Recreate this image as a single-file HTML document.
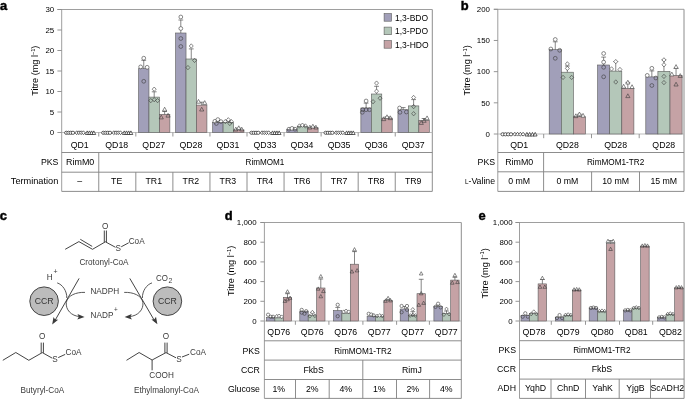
<!DOCTYPE html><html><head><meta charset="utf-8"><style>html,body{margin:0;padding:0;background:#fff;overflow:hidden}svg{display:block;will-change:transform}text{font-family:"Liberation Sans",sans-serif}</style></head><body>
<svg width="685" height="399" viewBox="0 0 685 399">
<rect width="685" height="399" fill="#fff"/>
<text x="-0.10" y="9.70" text-anchor="start" font-size="12.9" font-weight="bold" fill="#000" stroke="#000" stroke-width="0.45">a</text>
<line x1="61.70" y1="9.50" x2="61.70" y2="191.40" stroke="#939393" stroke-width="0.9"/>
<line x1="432.30" y1="9.50" x2="432.30" y2="191.40" stroke="#808080" stroke-width="0.9"/>
<line x1="57.40" y1="9.50" x2="432.30" y2="9.50" stroke="#939393" stroke-width="0.9"/>
<line x1="61.70" y1="132.50" x2="432.30" y2="132.50" stroke="#b5b5b5" stroke-width="0.9"/>
<line x1="57.40" y1="132.50" x2="61.70" y2="132.50" stroke="#8a8a8a" stroke-width="0.9"/>
<text x="54.20" y="135.20" text-anchor="end" font-size="7.9" >0</text>
<line x1="57.40" y1="112.00" x2="61.70" y2="112.00" stroke="#8a8a8a" stroke-width="0.9"/>
<text x="54.20" y="114.70" text-anchor="end" font-size="7.9" >5</text>
<line x1="57.40" y1="91.50" x2="61.70" y2="91.50" stroke="#8a8a8a" stroke-width="0.9"/>
<text x="54.20" y="94.20" text-anchor="end" font-size="7.9" >10</text>
<line x1="57.40" y1="71.00" x2="61.70" y2="71.00" stroke="#8a8a8a" stroke-width="0.9"/>
<text x="54.20" y="73.70" text-anchor="end" font-size="7.9" >15</text>
<line x1="57.40" y1="50.50" x2="61.70" y2="50.50" stroke="#8a8a8a" stroke-width="0.9"/>
<text x="54.20" y="53.20" text-anchor="end" font-size="7.9" >20</text>
<line x1="57.40" y1="30.00" x2="61.70" y2="30.00" stroke="#8a8a8a" stroke-width="0.9"/>
<text x="54.20" y="32.70" text-anchor="end" font-size="7.9" >25</text>
<line x1="57.40" y1="9.50" x2="61.70" y2="9.50" stroke="#8a8a8a" stroke-width="0.9"/>
<text x="54.20" y="12.20" text-anchor="end" font-size="7.9" >30</text>
<text transform="translate(38.40,70.70) rotate(-90)" text-anchor="middle" font-size="9.15">Titre (mg l<tspan font-size="5.6" dy="-3.2">−1</tspan><tspan dy="3.2">)</tspan></text>
<line x1="98.76" y1="132.50" x2="98.76" y2="136.50" stroke="#8a8a8a" stroke-width="0.9"/>
<line x1="135.82" y1="132.50" x2="135.82" y2="136.50" stroke="#8a8a8a" stroke-width="0.9"/>
<line x1="172.88" y1="132.50" x2="172.88" y2="136.50" stroke="#8a8a8a" stroke-width="0.9"/>
<line x1="209.94" y1="132.50" x2="209.94" y2="136.50" stroke="#8a8a8a" stroke-width="0.9"/>
<line x1="247.00" y1="132.50" x2="247.00" y2="136.50" stroke="#8a8a8a" stroke-width="0.9"/>
<line x1="284.06" y1="132.50" x2="284.06" y2="136.50" stroke="#8a8a8a" stroke-width="0.9"/>
<line x1="321.12" y1="132.50" x2="321.12" y2="136.50" stroke="#8a8a8a" stroke-width="0.9"/>
<line x1="358.18" y1="132.50" x2="358.18" y2="136.50" stroke="#8a8a8a" stroke-width="0.9"/>
<line x1="395.24" y1="132.50" x2="395.24" y2="136.50" stroke="#8a8a8a" stroke-width="0.9"/>
<line x1="61.70" y1="152.50" x2="432.30" y2="152.50" stroke="#808080" stroke-width="0.9"/>
<line x1="61.70" y1="172.20" x2="432.30" y2="172.20" stroke="#808080" stroke-width="0.9"/>
<line x1="61.70" y1="191.40" x2="432.30" y2="191.40" stroke="#808080" stroke-width="0.9"/>
<line x1="98.76" y1="152.50" x2="98.76" y2="172.20" stroke="#808080" stroke-width="0.9"/>
<line x1="98.76" y1="172.20" x2="98.76" y2="191.40" stroke="#808080" stroke-width="0.9"/>
<line x1="135.82" y1="172.20" x2="135.82" y2="191.40" stroke="#808080" stroke-width="0.9"/>
<line x1="172.88" y1="172.20" x2="172.88" y2="191.40" stroke="#808080" stroke-width="0.9"/>
<line x1="209.94" y1="172.20" x2="209.94" y2="191.40" stroke="#808080" stroke-width="0.9"/>
<line x1="247.00" y1="172.20" x2="247.00" y2="191.40" stroke="#808080" stroke-width="0.9"/>
<line x1="284.06" y1="172.20" x2="284.06" y2="191.40" stroke="#808080" stroke-width="0.9"/>
<line x1="321.12" y1="172.20" x2="321.12" y2="191.40" stroke="#808080" stroke-width="0.9"/>
<line x1="358.18" y1="172.20" x2="358.18" y2="191.40" stroke="#808080" stroke-width="0.9"/>
<line x1="395.24" y1="172.20" x2="395.24" y2="191.40" stroke="#808080" stroke-width="0.9"/>
<text x="79.65" y="148.20" text-anchor="middle" font-size="8.75" >QD1</text>
<text x="79.65" y="184.40" text-anchor="middle" font-size="8.75" >–</text>
<text x="116.71" y="148.20" text-anchor="middle" font-size="8.75" >QD18</text>
<text x="116.71" y="184.40" text-anchor="middle" font-size="8.75" >TE</text>
<text x="153.77" y="148.20" text-anchor="middle" font-size="8.75" >QD27</text>
<text x="153.77" y="184.40" text-anchor="middle" font-size="8.75" >TR1</text>
<text x="190.83" y="148.20" text-anchor="middle" font-size="8.75" >QD28</text>
<text x="190.83" y="184.40" text-anchor="middle" font-size="8.75" >TR2</text>
<text x="227.89" y="148.20" text-anchor="middle" font-size="8.75" >QD31</text>
<text x="227.89" y="184.40" text-anchor="middle" font-size="8.75" >TR3</text>
<text x="264.95" y="148.20" text-anchor="middle" font-size="8.75" >QD33</text>
<text x="264.95" y="184.40" text-anchor="middle" font-size="8.75" >TR4</text>
<text x="302.01" y="148.20" text-anchor="middle" font-size="8.75" >QD34</text>
<text x="302.01" y="184.40" text-anchor="middle" font-size="8.75" >TR6</text>
<text x="339.07" y="148.20" text-anchor="middle" font-size="8.75" >QD35</text>
<text x="339.07" y="184.40" text-anchor="middle" font-size="8.75" >TR7</text>
<text x="376.13" y="148.20" text-anchor="middle" font-size="8.75" >QD36</text>
<text x="376.13" y="184.40" text-anchor="middle" font-size="8.75" >TR8</text>
<text x="413.19" y="148.20" text-anchor="middle" font-size="8.75" >QD37</text>
<text x="413.19" y="184.40" text-anchor="middle" font-size="8.75" >TR9</text>
<text x="80.23" y="165.00" text-anchor="middle" font-size="8.75" textLength="28.2" lengthAdjust="spacingAndGlyphs" >RimM0</text>
<text x="265.00" y="165.00" text-anchor="middle" font-size="8.75" textLength="38.8" lengthAdjust="spacingAndGlyphs" >RimMOM1</text>
<text x="58.40" y="165.00" text-anchor="end" font-size="8.75" >PKS</text>
<text x="58.30" y="184.40" text-anchor="end" font-size="8.75" textLength="47.5" lengthAdjust="spacingAndGlyphs" >Termination</text>
<ellipse cx="66.30" cy="132.80" rx="1.75" ry="1.6" fill="#fff" stroke="#2e2e2e" stroke-width="0.75"/>
<ellipse cx="68.52" cy="132.80" rx="1.75" ry="1.6" fill="#fff" stroke="#2e2e2e" stroke-width="0.75"/>
<ellipse cx="70.73" cy="132.80" rx="1.75" ry="1.6" fill="#fff" stroke="#2e2e2e" stroke-width="0.75"/>
<ellipse cx="72.95" cy="132.80" rx="1.75" ry="1.6" fill="#fff" stroke="#2e2e2e" stroke-width="0.75"/>
<path d="M76.75 130.80L78.55 132.80L76.75 134.60L74.95 132.80Z" fill="#fff" stroke="#2e2e2e" stroke-width="0.75"/>
<path d="M78.97 130.80L80.77 132.80L78.97 134.60L77.17 132.80Z" fill="#fff" stroke="#2e2e2e" stroke-width="0.75"/>
<path d="M81.18 130.80L82.98 132.80L81.18 134.60L79.38 132.80Z" fill="#fff" stroke="#2e2e2e" stroke-width="0.75"/>
<path d="M83.40 130.80L85.20 132.80L83.40 134.60L81.60 132.80Z" fill="#fff" stroke="#2e2e2e" stroke-width="0.75"/>
<path d="M87.20 130.90L89.10 134.50L85.30 134.50Z" fill="#fff" stroke="#2e2e2e" stroke-width="0.75"/>
<path d="M89.42 130.90L91.32 134.50L87.52 134.50Z" fill="#fff" stroke="#2e2e2e" stroke-width="0.75"/>
<path d="M91.63 130.90L93.53 134.50L89.73 134.50Z" fill="#fff" stroke="#2e2e2e" stroke-width="0.75"/>
<path d="M93.85 130.90L95.75 134.50L91.95 134.50Z" fill="#fff" stroke="#2e2e2e" stroke-width="0.75"/>
<ellipse cx="103.36" cy="132.80" rx="1.75" ry="1.6" fill="#fff" stroke="#2e2e2e" stroke-width="0.75"/>
<ellipse cx="105.58" cy="132.80" rx="1.75" ry="1.6" fill="#fff" stroke="#2e2e2e" stroke-width="0.75"/>
<ellipse cx="107.79" cy="132.80" rx="1.75" ry="1.6" fill="#fff" stroke="#2e2e2e" stroke-width="0.75"/>
<ellipse cx="110.01" cy="132.80" rx="1.75" ry="1.6" fill="#fff" stroke="#2e2e2e" stroke-width="0.75"/>
<path d="M113.81 130.80L115.61 132.80L113.81 134.60L112.01 132.80Z" fill="#fff" stroke="#2e2e2e" stroke-width="0.75"/>
<path d="M116.03 130.80L117.83 132.80L116.03 134.60L114.23 132.80Z" fill="#fff" stroke="#2e2e2e" stroke-width="0.75"/>
<path d="M118.24 130.80L120.04 132.80L118.24 134.60L116.44 132.80Z" fill="#fff" stroke="#2e2e2e" stroke-width="0.75"/>
<path d="M120.46 130.80L122.26 132.80L120.46 134.60L118.66 132.80Z" fill="#fff" stroke="#2e2e2e" stroke-width="0.75"/>
<path d="M124.26 130.90L126.16 134.50L122.36 134.50Z" fill="#fff" stroke="#2e2e2e" stroke-width="0.75"/>
<path d="M126.48 130.90L128.38 134.50L124.58 134.50Z" fill="#fff" stroke="#2e2e2e" stroke-width="0.75"/>
<path d="M128.69 130.90L130.59 134.50L126.79 134.50Z" fill="#fff" stroke="#2e2e2e" stroke-width="0.75"/>
<path d="M130.91 130.90L132.81 134.50L129.01 134.50Z" fill="#fff" stroke="#2e2e2e" stroke-width="0.75"/>
<rect x="138.52" y="68.70" width="10.45" height="63.80" fill="#a19fb9" stroke="#5a5a5a" stroke-width="0.6"/>
<line x1="143.75" y1="68.70" x2="143.75" y2="60.30" stroke="#444" stroke-width="0.65"/>
<line x1="141.34" y1="60.30" x2="146.15" y2="60.30" stroke="#444" stroke-width="0.65"/>
<circle cx="143.75" cy="58.20" r="1.9" fill="#fff" stroke="#3a3a3a" stroke-width="0.6"/>
<circle cx="140.65" cy="66.90" r="1.9" fill="#fff" stroke="#3a3a3a" stroke-width="0.6"/>
<circle cx="147.15" cy="67.30" r="1.9" fill="#fff" stroke="#3a3a3a" stroke-width="0.6"/>
<circle cx="143.75" cy="81.30" r="1.9" fill="none" stroke="#3a3a3a" stroke-width="0.6"/>
<rect x="148.97" y="97.10" width="10.45" height="35.40" fill="#b4c7b9" stroke="#5a5a5a" stroke-width="0.6"/>
<line x1="154.19" y1="97.10" x2="154.19" y2="91.80" stroke="#444" stroke-width="0.65"/>
<line x1="151.79" y1="91.80" x2="156.59" y2="91.80" stroke="#444" stroke-width="0.65"/>
<path d="M154.19 87.02L156.19 89.20L154.19 91.39L152.20 89.20Z" fill="#fff" stroke="#3a3a3a" stroke-width="0.6"/>
<path d="M150.79 98.41L152.79 100.60L150.79 102.78L148.80 100.60Z" fill="none" stroke="#3a3a3a" stroke-width="0.6"/>
<path d="M154.19 97.52L156.19 99.70L154.19 101.89L152.20 99.70Z" fill="none" stroke="#3a3a3a" stroke-width="0.6"/>
<path d="M157.59 98.41L159.59 100.60L157.59 102.78L155.60 100.60Z" fill="none" stroke="#3a3a3a" stroke-width="0.6"/>
<rect x="159.42" y="114.30" width="10.45" height="18.20" fill="#c5a2a5" stroke="#5a5a5a" stroke-width="0.6"/>
<line x1="164.65" y1="114.30" x2="164.65" y2="111.50" stroke="#444" stroke-width="0.65"/>
<line x1="162.25" y1="111.50" x2="167.05" y2="111.50" stroke="#444" stroke-width="0.65"/>
<path d="M164.65 107.22L166.74 111.02L162.56 111.02Z" fill="#fff" stroke="#3a3a3a" stroke-width="0.6"/>
<path d="M161.25 115.11L163.34 118.91L159.16 118.91Z" fill="none" stroke="#3a3a3a" stroke-width="0.6"/>
<path d="M168.05 113.31L170.14 117.11L165.96 117.11Z" fill="none" stroke="#3a3a3a" stroke-width="0.6"/>
<rect x="175.58" y="33.00" width="10.45" height="99.50" fill="#a19fb9" stroke="#5a5a5a" stroke-width="0.6"/>
<line x1="180.81" y1="33.00" x2="180.81" y2="20.00" stroke="#444" stroke-width="0.65"/>
<line x1="178.41" y1="20.00" x2="183.21" y2="20.00" stroke="#444" stroke-width="0.65"/>
<circle cx="180.81" cy="17.00" r="1.9" fill="#fff" stroke="#3a3a3a" stroke-width="0.6"/>
<circle cx="180.81" cy="28.50" r="1.9" fill="#fff" stroke="#3a3a3a" stroke-width="0.6"/>
<circle cx="180.81" cy="38.50" r="1.9" fill="none" stroke="#3a3a3a" stroke-width="0.6"/>
<circle cx="180.81" cy="46.50" r="1.9" fill="none" stroke="#3a3a3a" stroke-width="0.6"/>
<rect x="186.03" y="59.00" width="10.45" height="73.50" fill="#b4c7b9" stroke="#5a5a5a" stroke-width="0.6"/>
<line x1="191.25" y1="59.00" x2="191.25" y2="48.90" stroke="#444" stroke-width="0.65"/>
<line x1="188.85" y1="48.90" x2="193.66" y2="48.90" stroke="#444" stroke-width="0.65"/>
<path d="M191.25 43.81L193.25 46.00L191.25 48.19L189.26 46.00Z" fill="#fff" stroke="#3a3a3a" stroke-width="0.6"/>
<path d="M194.56 58.21L196.55 60.40L194.56 62.59L192.56 60.40Z" fill="none" stroke="#3a3a3a" stroke-width="0.6"/>
<path d="M187.95 65.41L189.95 67.60L187.95 69.78L185.96 67.60Z" fill="none" stroke="#3a3a3a" stroke-width="0.6"/>
<rect x="196.48" y="105.10" width="10.45" height="27.40" fill="#c5a2a5" stroke="#5a5a5a" stroke-width="0.6"/>
<line x1="201.71" y1="105.10" x2="201.71" y2="102.20" stroke="#444" stroke-width="0.65"/>
<line x1="199.31" y1="102.20" x2="204.11" y2="102.20" stroke="#444" stroke-width="0.65"/>
<path d="M198.51 99.41L200.60 103.21L196.42 103.21Z" fill="#fff" stroke="#3a3a3a" stroke-width="0.6"/>
<path d="M204.71 100.61L206.80 104.41L202.62 104.41Z" fill="#fff" stroke="#3a3a3a" stroke-width="0.6"/>
<path d="M201.71 107.22L203.80 111.02L199.62 111.02Z" fill="none" stroke="#3a3a3a" stroke-width="0.6"/>
<rect x="212.64" y="122.30" width="10.45" height="10.20" fill="#a19fb9" stroke="#5a5a5a" stroke-width="0.6"/>
<line x1="217.87" y1="122.30" x2="217.87" y2="120.50" stroke="#444" stroke-width="0.65"/>
<line x1="215.47" y1="120.50" x2="220.27" y2="120.50" stroke="#444" stroke-width="0.65"/>
<circle cx="214.87" cy="121.30" r="1.9" fill="#fff" stroke="#3a3a3a" stroke-width="0.6"/>
<circle cx="217.87" cy="119.60" r="1.9" fill="#fff" stroke="#3a3a3a" stroke-width="0.6"/>
<circle cx="220.87" cy="121.60" r="1.9" fill="none" stroke="#3a3a3a" stroke-width="0.6"/>
<circle cx="216.37" cy="123.50" r="1.9" fill="none" stroke="#3a3a3a" stroke-width="0.6"/>
<rect x="223.09" y="122.30" width="10.45" height="10.20" fill="#b4c7b9" stroke="#5a5a5a" stroke-width="0.6"/>
<line x1="228.31" y1="122.30" x2="228.31" y2="120.80" stroke="#444" stroke-width="0.65"/>
<line x1="225.91" y1="120.80" x2="230.72" y2="120.80" stroke="#444" stroke-width="0.65"/>
<path d="M225.31 119.41L227.31 121.60L225.31 123.78L223.32 121.60Z" fill="none" stroke="#3a3a3a" stroke-width="0.6"/>
<path d="M228.31 117.61L230.31 119.80L228.31 121.98L226.32 119.80Z" fill="#fff" stroke="#3a3a3a" stroke-width="0.6"/>
<path d="M231.31 119.41L233.31 121.60L231.31 123.78L229.32 121.60Z" fill="none" stroke="#3a3a3a" stroke-width="0.6"/>
<path d="M229.81 121.31L231.81 123.50L229.81 125.69L227.82 123.50Z" fill="none" stroke="#3a3a3a" stroke-width="0.6"/>
<rect x="233.54" y="129.90" width="10.45" height="2.60" fill="#c5a2a5" stroke="#5a5a5a" stroke-width="0.6"/>
<line x1="238.77" y1="129.90" x2="238.77" y2="128.20" stroke="#444" stroke-width="0.65"/>
<line x1="236.37" y1="128.20" x2="241.17" y2="128.20" stroke="#444" stroke-width="0.65"/>
<path d="M235.77 127.22L237.86 131.02L233.68 131.02Z" fill="none" stroke="#3a3a3a" stroke-width="0.6"/>
<path d="M238.77 125.81L240.86 129.62L236.68 129.62Z" fill="#fff" stroke="#3a3a3a" stroke-width="0.6"/>
<path d="M241.77 127.22L243.86 131.02L239.68 131.02Z" fill="none" stroke="#3a3a3a" stroke-width="0.6"/>
<ellipse cx="251.60" cy="132.80" rx="1.75" ry="1.6" fill="#fff" stroke="#2e2e2e" stroke-width="0.75"/>
<ellipse cx="253.82" cy="132.80" rx="1.75" ry="1.6" fill="#fff" stroke="#2e2e2e" stroke-width="0.75"/>
<ellipse cx="256.03" cy="132.80" rx="1.75" ry="1.6" fill="#fff" stroke="#2e2e2e" stroke-width="0.75"/>
<ellipse cx="258.25" cy="132.80" rx="1.75" ry="1.6" fill="#fff" stroke="#2e2e2e" stroke-width="0.75"/>
<path d="M262.05 130.80L263.85 132.80L262.05 134.60L260.25 132.80Z" fill="#fff" stroke="#2e2e2e" stroke-width="0.75"/>
<path d="M264.27 130.80L266.07 132.80L264.27 134.60L262.47 132.80Z" fill="#fff" stroke="#2e2e2e" stroke-width="0.75"/>
<path d="M266.48 130.80L268.28 132.80L266.48 134.60L264.68 132.80Z" fill="#fff" stroke="#2e2e2e" stroke-width="0.75"/>
<path d="M268.70 130.80L270.50 132.80L268.70 134.60L266.90 132.80Z" fill="#fff" stroke="#2e2e2e" stroke-width="0.75"/>
<path d="M272.50 130.90L274.40 134.50L270.60 134.50Z" fill="#fff" stroke="#2e2e2e" stroke-width="0.75"/>
<path d="M274.72 130.90L276.62 134.50L272.82 134.50Z" fill="#fff" stroke="#2e2e2e" stroke-width="0.75"/>
<path d="M276.93 130.90L278.83 134.50L275.03 134.50Z" fill="#fff" stroke="#2e2e2e" stroke-width="0.75"/>
<path d="M279.15 130.90L281.05 134.50L277.25 134.50Z" fill="#fff" stroke="#2e2e2e" stroke-width="0.75"/>
<rect x="286.76" y="129.40" width="10.45" height="3.10" fill="#a19fb9" stroke="#5a5a5a" stroke-width="0.6"/>
<line x1="291.99" y1="129.40" x2="291.99" y2="128.40" stroke="#444" stroke-width="0.65"/>
<line x1="289.59" y1="128.40" x2="294.38" y2="128.40" stroke="#444" stroke-width="0.65"/>
<circle cx="288.99" cy="129.20" r="1.9" fill="none" stroke="#3a3a3a" stroke-width="0.6"/>
<circle cx="291.99" cy="128.40" r="1.9" fill="#fff" stroke="#3a3a3a" stroke-width="0.6"/>
<circle cx="294.99" cy="129.20" r="1.9" fill="none" stroke="#3a3a3a" stroke-width="0.6"/>
<rect x="297.21" y="126.30" width="10.45" height="6.20" fill="#b4c7b9" stroke="#5a5a5a" stroke-width="0.6"/>
<line x1="302.44" y1="126.30" x2="302.44" y2="125.30" stroke="#444" stroke-width="0.65"/>
<line x1="300.04" y1="125.30" x2="304.83" y2="125.30" stroke="#444" stroke-width="0.65"/>
<path d="M299.44 123.81L301.43 126.00L299.44 128.19L297.44 126.00Z" fill="none" stroke="#3a3a3a" stroke-width="0.6"/>
<path d="M302.44 123.02L304.43 125.20L302.44 127.39L300.44 125.20Z" fill="#fff" stroke="#3a3a3a" stroke-width="0.6"/>
<path d="M305.44 123.81L307.43 126.00L305.44 128.19L303.44 126.00Z" fill="none" stroke="#3a3a3a" stroke-width="0.6"/>
<rect x="307.66" y="127.70" width="10.45" height="4.80" fill="#c5a2a5" stroke="#5a5a5a" stroke-width="0.6"/>
<line x1="312.88" y1="127.70" x2="312.88" y2="126.60" stroke="#444" stroke-width="0.65"/>
<line x1="310.49" y1="126.60" x2="315.28" y2="126.60" stroke="#444" stroke-width="0.65"/>
<path d="M309.88 125.22L311.97 129.02L307.80 129.02Z" fill="none" stroke="#3a3a3a" stroke-width="0.6"/>
<path d="M312.88 124.22L314.97 128.02L310.80 128.02Z" fill="#fff" stroke="#3a3a3a" stroke-width="0.6"/>
<path d="M315.88 125.22L317.97 129.02L313.80 129.02Z" fill="none" stroke="#3a3a3a" stroke-width="0.6"/>
<ellipse cx="325.72" cy="132.80" rx="1.75" ry="1.6" fill="#fff" stroke="#2e2e2e" stroke-width="0.75"/>
<ellipse cx="327.94" cy="132.80" rx="1.75" ry="1.6" fill="#fff" stroke="#2e2e2e" stroke-width="0.75"/>
<ellipse cx="330.15" cy="132.80" rx="1.75" ry="1.6" fill="#fff" stroke="#2e2e2e" stroke-width="0.75"/>
<ellipse cx="332.37" cy="132.80" rx="1.75" ry="1.6" fill="#fff" stroke="#2e2e2e" stroke-width="0.75"/>
<path d="M336.17 130.80L337.97 132.80L336.17 134.60L334.37 132.80Z" fill="#fff" stroke="#2e2e2e" stroke-width="0.75"/>
<path d="M338.39 130.80L340.19 132.80L338.39 134.60L336.59 132.80Z" fill="#fff" stroke="#2e2e2e" stroke-width="0.75"/>
<path d="M340.60 130.80L342.40 132.80L340.60 134.60L338.80 132.80Z" fill="#fff" stroke="#2e2e2e" stroke-width="0.75"/>
<path d="M342.82 130.80L344.62 132.80L342.82 134.60L341.02 132.80Z" fill="#fff" stroke="#2e2e2e" stroke-width="0.75"/>
<path d="M346.62 130.90L348.52 134.50L344.72 134.50Z" fill="#fff" stroke="#2e2e2e" stroke-width="0.75"/>
<path d="M348.84 130.90L350.74 134.50L346.94 134.50Z" fill="#fff" stroke="#2e2e2e" stroke-width="0.75"/>
<path d="M351.05 130.90L352.95 134.50L349.15 134.50Z" fill="#fff" stroke="#2e2e2e" stroke-width="0.75"/>
<path d="M353.27 130.90L355.17 134.50L351.37 134.50Z" fill="#fff" stroke="#2e2e2e" stroke-width="0.75"/>
<rect x="360.88" y="108.00" width="10.45" height="24.50" fill="#a19fb9" stroke="#5a5a5a" stroke-width="0.6"/>
<line x1="366.11" y1="108.00" x2="366.11" y2="103.10" stroke="#444" stroke-width="0.65"/>
<line x1="363.71" y1="103.10" x2="368.50" y2="103.10" stroke="#444" stroke-width="0.65"/>
<circle cx="366.11" cy="101.00" r="1.9" fill="#fff" stroke="#3a3a3a" stroke-width="0.6"/>
<circle cx="362.71" cy="109.70" r="1.9" fill="none" stroke="#3a3a3a" stroke-width="0.6"/>
<circle cx="366.11" cy="109.70" r="1.9" fill="none" stroke="#3a3a3a" stroke-width="0.6"/>
<circle cx="369.50" cy="109.70" r="1.9" fill="none" stroke="#3a3a3a" stroke-width="0.6"/>
<circle cx="362.31" cy="112.30" r="1.9" fill="none" stroke="#3a3a3a" stroke-width="0.6"/>
<rect x="371.33" y="94.00" width="10.45" height="38.50" fill="#b4c7b9" stroke="#5a5a5a" stroke-width="0.6"/>
<line x1="376.56" y1="94.00" x2="376.56" y2="86.30" stroke="#444" stroke-width="0.65"/>
<line x1="374.16" y1="86.30" x2="378.95" y2="86.30" stroke="#444" stroke-width="0.65"/>
<path d="M376.56 80.91L378.55 83.10L376.56 85.28L374.56 83.10Z" fill="#fff" stroke="#3a3a3a" stroke-width="0.6"/>
<path d="M376.56 89.02L378.55 91.20L376.56 93.39L374.56 91.20Z" fill="#fff" stroke="#3a3a3a" stroke-width="0.6"/>
<path d="M373.06 99.52L375.05 101.70L373.06 103.89L371.06 101.70Z" fill="none" stroke="#3a3a3a" stroke-width="0.6"/>
<path d="M380.06 96.02L382.05 98.20L380.06 100.39L378.06 98.20Z" fill="none" stroke="#3a3a3a" stroke-width="0.6"/>
<rect x="381.78" y="118.10" width="10.45" height="14.40" fill="#c5a2a5" stroke="#5a5a5a" stroke-width="0.6"/>
<line x1="387.00" y1="118.10" x2="387.00" y2="116.80" stroke="#444" stroke-width="0.65"/>
<line x1="384.61" y1="116.80" x2="389.40" y2="116.80" stroke="#444" stroke-width="0.65"/>
<path d="M383.70 116.81L385.79 120.61L381.62 120.61Z" fill="none" stroke="#3a3a3a" stroke-width="0.6"/>
<path d="M387.00 114.81L389.09 118.61L384.92 118.61Z" fill="#fff" stroke="#3a3a3a" stroke-width="0.6"/>
<path d="M390.31 115.81L392.39 119.61L388.22 119.61Z" fill="none" stroke="#3a3a3a" stroke-width="0.6"/>
<rect x="397.94" y="109.70" width="10.45" height="22.80" fill="#a19fb9" stroke="#5a5a5a" stroke-width="0.6"/>
<line x1="403.17" y1="109.70" x2="403.17" y2="107.60" stroke="#444" stroke-width="0.65"/>
<line x1="400.77" y1="107.60" x2="405.57" y2="107.60" stroke="#444" stroke-width="0.65"/>
<circle cx="399.57" cy="108.00" r="1.9" fill="#fff" stroke="#3a3a3a" stroke-width="0.6"/>
<circle cx="399.97" cy="112.30" r="1.9" fill="none" stroke="#3a3a3a" stroke-width="0.6"/>
<circle cx="406.37" cy="112.00" r="1.9" fill="none" stroke="#3a3a3a" stroke-width="0.6"/>
<rect x="408.39" y="105.90" width="10.45" height="26.60" fill="#b4c7b9" stroke="#5a5a5a" stroke-width="0.6"/>
<line x1="413.62" y1="105.90" x2="413.62" y2="99.60" stroke="#444" stroke-width="0.65"/>
<line x1="411.22" y1="99.60" x2="416.02" y2="99.60" stroke="#444" stroke-width="0.65"/>
<path d="M413.62 95.31L415.61 97.50L413.62 99.69L411.62 97.50Z" fill="#fff" stroke="#3a3a3a" stroke-width="0.6"/>
<path d="M413.62 104.41L415.61 106.60L413.62 108.78L411.62 106.60Z" fill="none" stroke="#3a3a3a" stroke-width="0.6"/>
<path d="M413.62 111.52L415.61 113.70L413.62 115.89L411.62 113.70Z" fill="none" stroke="#3a3a3a" stroke-width="0.6"/>
<rect x="418.84" y="120.40" width="10.45" height="12.10" fill="#c5a2a5" stroke="#5a5a5a" stroke-width="0.6"/>
<line x1="424.07" y1="120.40" x2="424.07" y2="118.50" stroke="#444" stroke-width="0.65"/>
<line x1="421.67" y1="118.50" x2="426.47" y2="118.50" stroke="#444" stroke-width="0.65"/>
<path d="M421.27 120.61L423.36 124.41L419.18 124.41Z" fill="none" stroke="#3a3a3a" stroke-width="0.6"/>
<path d="M424.07 118.52L426.16 122.31L421.98 122.31Z" fill="none" stroke="#3a3a3a" stroke-width="0.6"/>
<path d="M427.07 115.91L429.16 119.71L424.98 119.71Z" fill="#fff" stroke="#3a3a3a" stroke-width="0.6"/>
<rect x="384.10" y="13.60" width="7.40" height="7.60" fill="#a19fb9" stroke="#5a5a5a" stroke-width="0.6"/>
<text x="395.00" y="20.60" text-anchor="start" font-size="8.5" >1,3-BDO</text>
<rect x="384.10" y="27.10" width="7.40" height="7.60" fill="#b4c7b9" stroke="#5a5a5a" stroke-width="0.6"/>
<text x="395.00" y="34.10" text-anchor="start" font-size="8.5" >1,3-PDO</text>
<rect x="384.10" y="40.60" width="7.40" height="7.60" fill="#c5a2a5" stroke="#5a5a5a" stroke-width="0.6"/>
<text x="395.00" y="47.60" text-anchor="start" font-size="8.5" >1,3-HDO</text>
<text x="460.80" y="9.50" text-anchor="start" font-size="12.9" font-weight="bold" fill="#000" stroke="#000" stroke-width="0.45">b</text>
<line x1="497.80" y1="9.30" x2="497.80" y2="191.40" stroke="#939393" stroke-width="0.9"/>
<line x1="684.00" y1="9.30" x2="684.00" y2="191.40" stroke="#808080" stroke-width="0.9"/>
<line x1="493.80" y1="9.30" x2="684.00" y2="9.30" stroke="#939393" stroke-width="0.9"/>
<line x1="497.80" y1="134.00" x2="684.00" y2="134.00" stroke="#b5b5b5" stroke-width="0.9"/>
<line x1="493.80" y1="134.00" x2="497.80" y2="134.00" stroke="#8a8a8a" stroke-width="0.9"/>
<text x="490.00" y="136.70" text-anchor="end" font-size="7.9" >0</text>
<line x1="493.80" y1="102.82" x2="497.80" y2="102.82" stroke="#8a8a8a" stroke-width="0.9"/>
<text x="490.00" y="105.52" text-anchor="end" font-size="7.9" >50</text>
<line x1="493.80" y1="71.65" x2="497.80" y2="71.65" stroke="#8a8a8a" stroke-width="0.9"/>
<text x="490.00" y="74.35" text-anchor="end" font-size="7.9" >100</text>
<line x1="493.80" y1="40.47" x2="497.80" y2="40.47" stroke="#8a8a8a" stroke-width="0.9"/>
<text x="490.00" y="43.17" text-anchor="end" font-size="7.9" >150</text>
<line x1="493.80" y1="9.30" x2="497.80" y2="9.30" stroke="#8a8a8a" stroke-width="0.9"/>
<text x="490.00" y="12.00" text-anchor="end" font-size="7.9" >200</text>
<text transform="translate(470.40,70.30) rotate(-90)" text-anchor="middle" font-size="9.15">Titre (mg l<tspan font-size="5.6" dy="-3.2">−1</tspan><tspan dy="3.2">)</tspan></text>
<line x1="543.70" y1="134.00" x2="543.70" y2="138.20" stroke="#8a8a8a" stroke-width="0.9"/>
<line x1="591.50" y1="134.00" x2="591.50" y2="138.20" stroke="#8a8a8a" stroke-width="0.9"/>
<line x1="639.20" y1="134.00" x2="639.20" y2="138.20" stroke="#8a8a8a" stroke-width="0.9"/>
<line x1="497.80" y1="152.50" x2="684.00" y2="152.50" stroke="#808080" stroke-width="0.9"/>
<line x1="497.80" y1="171.80" x2="684.00" y2="171.80" stroke="#808080" stroke-width="0.9"/>
<line x1="497.80" y1="191.40" x2="684.00" y2="191.40" stroke="#808080" stroke-width="0.9"/>
<line x1="543.60" y1="152.50" x2="543.60" y2="171.80" stroke="#808080" stroke-width="0.9"/>
<line x1="543.60" y1="171.80" x2="543.60" y2="191.40" stroke="#808080" stroke-width="0.9"/>
<line x1="591.60" y1="171.80" x2="591.60" y2="191.40" stroke="#808080" stroke-width="0.9"/>
<line x1="639.50" y1="171.80" x2="639.50" y2="191.40" stroke="#808080" stroke-width="0.9"/>
<text x="519.20" y="148.20" text-anchor="middle" font-size="8.75" >QD1</text>
<text x="519.20" y="184.40" text-anchor="middle" font-size="8.75" >0 mM</text>
<text x="567.40" y="148.20" text-anchor="middle" font-size="8.75" >QD28</text>
<text x="567.40" y="184.40" text-anchor="middle" font-size="8.75" >0 mM</text>
<text x="615.60" y="148.20" text-anchor="middle" font-size="8.75" >QD28</text>
<text x="615.60" y="184.40" text-anchor="middle" font-size="8.75" >10 mM</text>
<text x="663.80" y="148.20" text-anchor="middle" font-size="8.75" >QD28</text>
<text x="663.80" y="184.40" text-anchor="middle" font-size="8.75" >15 mM</text>
<text x="519.20" y="165.00" text-anchor="middle" font-size="8.75" textLength="28.0" lengthAdjust="spacingAndGlyphs" >RimM0</text>
<text x="615.60" y="165.00" text-anchor="middle" font-size="8.75" textLength="57.4" lengthAdjust="spacingAndGlyphs" >RimMOM1-TR2</text>
<text x="495.10" y="165.00" text-anchor="end" font-size="8.75" >PKS</text>
<text x="495.10" y="184.40" text-anchor="end" font-size="8.75" ><tspan font-size="6.4">L</tspan>-Valine</text>
<ellipse cx="502.70" cy="134.30" rx="1.75" ry="1.6" fill="#fff" stroke="#2e2e2e" stroke-width="0.75"/>
<ellipse cx="505.47" cy="134.30" rx="1.75" ry="1.6" fill="#fff" stroke="#2e2e2e" stroke-width="0.75"/>
<ellipse cx="508.23" cy="134.30" rx="1.75" ry="1.6" fill="#fff" stroke="#2e2e2e" stroke-width="0.75"/>
<ellipse cx="511.00" cy="134.30" rx="1.75" ry="1.6" fill="#fff" stroke="#2e2e2e" stroke-width="0.75"/>
<path d="M514.80 132.30L516.60 134.30L514.80 136.10L513.00 134.30Z" fill="#fff" stroke="#2e2e2e" stroke-width="0.75"/>
<path d="M517.57 132.30L519.37 134.30L517.57 136.10L515.77 134.30Z" fill="#fff" stroke="#2e2e2e" stroke-width="0.75"/>
<path d="M520.33 132.30L522.13 134.30L520.33 136.10L518.53 134.30Z" fill="#fff" stroke="#2e2e2e" stroke-width="0.75"/>
<path d="M523.10 132.30L524.90 134.30L523.10 136.10L521.30 134.30Z" fill="#fff" stroke="#2e2e2e" stroke-width="0.75"/>
<path d="M526.90 132.40L528.80 136.00L525.00 136.00Z" fill="#fff" stroke="#2e2e2e" stroke-width="0.75"/>
<path d="M529.67 132.40L531.57 136.00L527.77 136.00Z" fill="#fff" stroke="#2e2e2e" stroke-width="0.75"/>
<path d="M532.43 132.40L534.33 136.00L530.53 136.00Z" fill="#fff" stroke="#2e2e2e" stroke-width="0.75"/>
<path d="M535.20 132.40L537.10 136.00L533.30 136.00Z" fill="#fff" stroke="#2e2e2e" stroke-width="0.75"/>
<rect x="549.20" y="49.70" width="12.10" height="84.30" fill="#a19fb9" stroke="#5a5a5a" stroke-width="0.6"/>
<line x1="555.25" y1="49.70" x2="555.25" y2="41.80" stroke="#444" stroke-width="0.65"/>
<line x1="552.85" y1="41.80" x2="557.65" y2="41.80" stroke="#444" stroke-width="0.65"/>
<circle cx="555.25" cy="39.50" r="1.9" fill="#fff" stroke="#3a3a3a" stroke-width="0.6"/>
<circle cx="550.85" cy="49.00" r="1.9" fill="none" stroke="#3a3a3a" stroke-width="0.6"/>
<circle cx="559.65" cy="50.30" r="1.9" fill="none" stroke="#3a3a3a" stroke-width="0.6"/>
<circle cx="555.25" cy="58.30" r="1.9" fill="none" stroke="#3a3a3a" stroke-width="0.6"/>
<rect x="561.30" y="72.20" width="12.10" height="61.80" fill="#b4c7b9" stroke="#5a5a5a" stroke-width="0.6"/>
<line x1="567.35" y1="72.20" x2="567.35" y2="66.00" stroke="#444" stroke-width="0.65"/>
<line x1="564.95" y1="66.00" x2="569.75" y2="66.00" stroke="#444" stroke-width="0.65"/>
<path d="M567.35 61.71L569.35 63.90L567.35 66.08L565.36 63.90Z" fill="#fff" stroke="#3a3a3a" stroke-width="0.6"/>
<path d="M567.35 66.22L569.35 68.40L567.35 70.59L565.36 68.40Z" fill="#fff" stroke="#3a3a3a" stroke-width="0.6"/>
<path d="M563.05 75.22L565.05 77.40L563.05 79.59L561.06 77.40Z" fill="none" stroke="#3a3a3a" stroke-width="0.6"/>
<path d="M571.65 75.22L573.64 77.40L571.65 79.59L569.65 77.40Z" fill="none" stroke="#3a3a3a" stroke-width="0.6"/>
<rect x="573.40" y="116.70" width="12.10" height="17.30" fill="#c5a2a5" stroke="#5a5a5a" stroke-width="0.6"/>
<line x1="579.45" y1="116.70" x2="579.45" y2="114.30" stroke="#444" stroke-width="0.65"/>
<line x1="577.05" y1="114.30" x2="581.85" y2="114.30" stroke="#444" stroke-width="0.65"/>
<path d="M575.85 113.81L577.94 117.61L573.76 117.61Z" fill="none" stroke="#3a3a3a" stroke-width="0.6"/>
<path d="M579.45 112.02L581.54 115.81L577.36 115.81Z" fill="#fff" stroke="#3a3a3a" stroke-width="0.6"/>
<path d="M583.05 113.41L585.14 117.21L580.96 117.21Z" fill="#fff" stroke="#3a3a3a" stroke-width="0.6"/>
<rect x="597.60" y="65.00" width="12.10" height="69.00" fill="#a19fb9" stroke="#5a5a5a" stroke-width="0.6"/>
<line x1="603.65" y1="65.00" x2="603.65" y2="57.10" stroke="#444" stroke-width="0.65"/>
<line x1="601.25" y1="57.10" x2="606.05" y2="57.10" stroke="#444" stroke-width="0.65"/>
<circle cx="603.65" cy="53.50" r="1.9" fill="#fff" stroke="#3a3a3a" stroke-width="0.6"/>
<circle cx="603.65" cy="62.10" r="1.9" fill="#fff" stroke="#3a3a3a" stroke-width="0.6"/>
<circle cx="603.65" cy="67.30" r="1.9" fill="none" stroke="#3a3a3a" stroke-width="0.6"/>
<circle cx="603.65" cy="76.80" r="1.9" fill="none" stroke="#3a3a3a" stroke-width="0.6"/>
<rect x="609.70" y="71.10" width="12.10" height="62.90" fill="#b4c7b9" stroke="#5a5a5a" stroke-width="0.6"/>
<line x1="615.75" y1="71.10" x2="615.75" y2="61.60" stroke="#444" stroke-width="0.65"/>
<line x1="613.35" y1="61.60" x2="618.15" y2="61.60" stroke="#444" stroke-width="0.65"/>
<path d="M615.75 59.41L617.75 61.60L615.75 63.79L613.75 61.60Z" fill="#fff" stroke="#3a3a3a" stroke-width="0.6"/>
<path d="M611.55 66.72L613.54 68.90L611.55 71.09L609.55 68.90Z" fill="#fff" stroke="#3a3a3a" stroke-width="0.6"/>
<path d="M619.95 67.31L621.95 69.50L619.95 71.69L617.96 69.50Z" fill="#fff" stroke="#3a3a3a" stroke-width="0.6"/>
<path d="M615.75 79.81L617.75 82.00L615.75 84.19L613.75 82.00Z" fill="none" stroke="#3a3a3a" stroke-width="0.6"/>
<rect x="621.80" y="88.50" width="12.10" height="45.50" fill="#c5a2a5" stroke="#5a5a5a" stroke-width="0.6"/>
<line x1="627.85" y1="88.50" x2="627.85" y2="82.40" stroke="#444" stroke-width="0.65"/>
<line x1="625.45" y1="82.40" x2="630.25" y2="82.40" stroke="#444" stroke-width="0.65"/>
<path d="M627.85 80.22L629.94 84.02L625.76 84.02Z" fill="#fff" stroke="#3a3a3a" stroke-width="0.6"/>
<path d="M623.65 84.31L625.74 88.11L621.56 88.11Z" fill="#fff" stroke="#3a3a3a" stroke-width="0.6"/>
<path d="M632.05 84.72L634.14 88.52L629.96 88.52Z" fill="#fff" stroke="#3a3a3a" stroke-width="0.6"/>
<path d="M627.85 93.81L629.94 97.61L625.76 97.61Z" fill="none" stroke="#3a3a3a" stroke-width="0.6"/>
<rect x="645.80" y="76.90" width="12.10" height="57.10" fill="#a19fb9" stroke="#5a5a5a" stroke-width="0.6"/>
<line x1="651.85" y1="76.90" x2="651.85" y2="70.90" stroke="#444" stroke-width="0.65"/>
<line x1="649.45" y1="70.90" x2="654.25" y2="70.90" stroke="#444" stroke-width="0.65"/>
<circle cx="647.25" cy="75.40" r="1.9" fill="#fff" stroke="#3a3a3a" stroke-width="0.6"/>
<circle cx="651.85" cy="68.30" r="1.9" fill="#fff" stroke="#3a3a3a" stroke-width="0.6"/>
<circle cx="655.85" cy="78.00" r="1.9" fill="none" stroke="#3a3a3a" stroke-width="0.6"/>
<circle cx="651.85" cy="85.50" r="1.9" fill="none" stroke="#3a3a3a" stroke-width="0.6"/>
<rect x="657.90" y="71.30" width="12.10" height="62.70" fill="#b4c7b9" stroke="#5a5a5a" stroke-width="0.6"/>
<line x1="663.95" y1="71.30" x2="663.95" y2="59.90" stroke="#444" stroke-width="0.65"/>
<line x1="661.55" y1="59.90" x2="666.35" y2="59.90" stroke="#444" stroke-width="0.65"/>
<path d="M663.95 57.71L665.94 59.90L663.95 62.09L661.95 59.90Z" fill="#fff" stroke="#3a3a3a" stroke-width="0.6"/>
<path d="M663.95 62.61L665.94 64.80L663.95 66.98L661.95 64.80Z" fill="#fff" stroke="#3a3a3a" stroke-width="0.6"/>
<path d="M663.95 74.22L665.94 76.40L663.95 78.59L661.95 76.40Z" fill="none" stroke="#3a3a3a" stroke-width="0.6"/>
<path d="M663.95 80.41L665.94 82.60L663.95 84.78L661.95 82.60Z" fill="none" stroke="#3a3a3a" stroke-width="0.6"/>
<rect x="670.00" y="75.50" width="12.10" height="58.50" fill="#c5a2a5" stroke="#5a5a5a" stroke-width="0.6"/>
<line x1="676.05" y1="75.50" x2="676.05" y2="68.30" stroke="#444" stroke-width="0.65"/>
<line x1="673.65" y1="68.30" x2="678.45" y2="68.30" stroke="#444" stroke-width="0.65"/>
<path d="M676.05 64.61L678.14 68.41L673.96 68.41Z" fill="#fff" stroke="#3a3a3a" stroke-width="0.6"/>
<path d="M671.85 72.11L673.94 75.91L669.76 75.91Z" fill="#fff" stroke="#3a3a3a" stroke-width="0.6"/>
<path d="M680.25 73.61L682.34 77.41L678.16 77.41Z" fill="none" stroke="#3a3a3a" stroke-width="0.6"/>
<path d="M676.05 82.22L678.14 86.02L673.96 86.02Z" fill="none" stroke="#3a3a3a" stroke-width="0.6"/>
<text x="-0.20" y="220.30" text-anchor="start" font-size="12.9" font-weight="bold" fill="#000" stroke="#000" stroke-width="0.45">c</text>
<path d="M65.20 249.30L78.90 241.60L92.50 249.30L105.40 241.80L115.50 247.30" fill="none" stroke="#3a3a3a" stroke-width="0.95"/>
<path d="M80.30 239.30L92.20 246.40" fill="none" stroke="#3a3a3a" stroke-width="0.95"/>
<path d="M104.30 242.20L104.30 230.50" fill="none" stroke="#3a3a3a" stroke-width="0.95"/>
<path d="M106.40 242.20L106.40 230.50" fill="none" stroke="#3a3a3a" stroke-width="0.95"/>
<text x="105.30" y="229.10" text-anchor="middle" font-size="8.2" fill="#3a3a3a" >O</text>
<text x="118.30" y="251.30" text-anchor="middle" font-size="8.2" fill="#3a3a3a" >S</text>
<path d="M121.20 246.80L128.70 242.80" fill="none" stroke="#3a3a3a" stroke-width="0.95"/>
<text x="128.70" y="244.00" text-anchor="start" font-size="8.2" fill="#3a3a3a" >CoA</text>
<text x="104.00" y="264.60" text-anchor="middle" font-size="8.2" fill="#3a3a3a" >Crotonyl-CoA</text>
<circle cx="44.1" cy="301.2" r="14.3" fill="#bcbcbc" stroke="#333" stroke-width="0.9"/>
<text x="44.10" y="303.80" text-anchor="middle" font-size="8.7" fill="#333" >CCR</text>
<circle cx="167.4" cy="301.2" r="14.3" fill="#bcbcbc" stroke="#333" stroke-width="0.9"/>
<text x="167.40" y="303.80" text-anchor="middle" font-size="8.7" fill="#333" >CCR</text>
<path d="M79.10 278.40L54.00 322.20" fill="none" stroke="#3a3a3a" stroke-width="0.95"/>
<path d="M52.20 324.50L53.50 316.92L55.10 319.53L58.16 319.64Z" fill="#3a3a3a"/>
<path d="M129.80 278.40L155.40 322.20" fill="none" stroke="#3a3a3a" stroke-width="0.95"/>
<path d="M157.40 324.30L151.38 319.52L154.43 319.36L156.00 316.74Z" fill="#3a3a3a"/>
<path d="M57.2 282.9 C62.5 284.5 67.0 291.0 66.8 298.0" fill="none" stroke="#3a3a3a" stroke-width="0.85"/>
<path d="M85.0 292.4 C76.0 292.0 67.5 295.5 66.3 302.5 C65.5 309.5 71.0 316.0 80.0 316.6" fill="none" stroke="#3a3a3a" stroke-width="0.85"/>
<path d="M84.60 316.90L77.32 319.38L78.84 316.73L77.48 313.99Z" fill="#3a3a3a"/>
<path d="M152.0 282.9 C146.7 284.5 142.2 291.0 142.4 298.0" fill="none" stroke="#3a3a3a" stroke-width="0.85"/>
<path d="M124.2 292.4 C133.2 292.0 141.7 295.5 142.9 302.5 C143.7 309.5 138.2 316.0 129.2 316.6" fill="none" stroke="#3a3a3a" stroke-width="0.85"/>
<path d="M124.60 316.90L131.72 313.99L130.36 316.73L131.88 319.38Z" fill="#3a3a3a"/>
<text x="49.70" y="280.10" text-anchor="middle" font-size="8.2" fill="#3a3a3a" >H</text>
<text x="55.60" y="273.80" text-anchor="middle" font-size="7.0" fill="#3a3a3a" >+</text>
<text x="156.00" y="280.90" text-anchor="start" font-size="9.0" fill="#3a3a3a" textLength="11.9" lengthAdjust="spacingAndGlyphs" >CO</text>
<text x="168.40" y="282.90" text-anchor="start" font-size="6.9" fill="#3a3a3a" >2</text>
<text x="104.80" y="294.00" text-anchor="middle" font-size="8.2" fill="#3a3a3a" >NADPH</text>
<text x="90.60" y="317.50" text-anchor="start" font-size="8.2" fill="#3a3a3a" >NADP</text>
<text x="113.90" y="311.60" text-anchor="start" font-size="6.4" fill="#3a3a3a" >+</text>
<path d="M2.80 360.30L15.80 352.50L28.80 360.30L42.30 352.60L52.30 358.20" fill="none" stroke="#3a3a3a" stroke-width="0.95"/>
<path d="M41.20 352.90L41.20 342.60" fill="none" stroke="#3a3a3a" stroke-width="0.95"/>
<path d="M43.40 352.90L43.40 342.60" fill="none" stroke="#3a3a3a" stroke-width="0.95"/>
<text x="42.30" y="339.00" text-anchor="middle" font-size="8.2" fill="#3a3a3a" >O</text>
<text x="55.10" y="361.80" text-anchor="middle" font-size="8.2" fill="#3a3a3a" >S</text>
<path d="M58.20 357.60L65.20 354.40" fill="none" stroke="#3a3a3a" stroke-width="0.95"/>
<text x="65.60" y="354.70" text-anchor="start" font-size="8.2" fill="#3a3a3a" >CoA</text>
<text x="42.40" y="392.60" text-anchor="middle" font-size="8.2" fill="#3a3a3a" >Butyryl-CoA</text>
<path d="M126.50 360.30L139.10 352.50L152.10 360.00L166.00 352.60L176.00 357.80" fill="none" stroke="#3a3a3a" stroke-width="0.95"/>
<path d="M164.90 352.90L164.90 342.60" fill="none" stroke="#3a3a3a" stroke-width="0.95"/>
<path d="M167.10 352.90L167.10 342.60" fill="none" stroke="#3a3a3a" stroke-width="0.95"/>
<text x="166.00" y="339.30" text-anchor="middle" font-size="8.2" fill="#3a3a3a" >O</text>
<path d="M152.10 360.00L152.10 370.30" fill="none" stroke="#3a3a3a" stroke-width="0.95"/>
<text x="149.30" y="377.80" text-anchor="start" font-size="8.2" fill="#3a3a3a" >COOH</text>
<text x="179.00" y="361.60" text-anchor="middle" font-size="8.2" fill="#3a3a3a" >S</text>
<path d="M182.00 357.00L189.20 354.20" fill="none" stroke="#3a3a3a" stroke-width="0.95"/>
<text x="190.00" y="355.20" text-anchor="start" font-size="8.2" fill="#3a3a3a" >CoA</text>
<text x="166.50" y="392.80" text-anchor="middle" font-size="8.2" fill="#3a3a3a" >Ethylmalonyl-CoA</text>
<text x="224.70" y="220.10" text-anchor="start" font-size="12.9" font-weight="bold" fill="#000" stroke="#000" stroke-width="0.45">d</text>
<line x1="264.40" y1="222.50" x2="264.40" y2="398.40" stroke="#939393" stroke-width="0.9"/>
<line x1="461.30" y1="222.50" x2="461.30" y2="398.40" stroke="#808080" stroke-width="0.9"/>
<line x1="260.40" y1="222.50" x2="461.30" y2="222.50" stroke="#939393" stroke-width="0.9"/>
<line x1="264.40" y1="321.00" x2="461.30" y2="321.00" stroke="#b5b5b5" stroke-width="0.9"/>
<line x1="260.40" y1="321.00" x2="264.40" y2="321.00" stroke="#8a8a8a" stroke-width="0.9"/>
<text x="256.60" y="323.70" text-anchor="end" font-size="7.9" >0</text>
<line x1="260.40" y1="301.30" x2="264.40" y2="301.30" stroke="#8a8a8a" stroke-width="0.9"/>
<text x="256.60" y="304.00" text-anchor="end" font-size="7.9" >200</text>
<line x1="260.40" y1="281.60" x2="264.40" y2="281.60" stroke="#8a8a8a" stroke-width="0.9"/>
<text x="256.60" y="284.30" text-anchor="end" font-size="7.9" >400</text>
<line x1="260.40" y1="261.90" x2="264.40" y2="261.90" stroke="#8a8a8a" stroke-width="0.9"/>
<text x="256.60" y="264.60" text-anchor="end" font-size="7.9" >600</text>
<line x1="260.40" y1="242.20" x2="264.40" y2="242.20" stroke="#8a8a8a" stroke-width="0.9"/>
<text x="256.60" y="244.90" text-anchor="end" font-size="7.9" >800</text>
<line x1="260.40" y1="222.50" x2="264.40" y2="222.50" stroke="#8a8a8a" stroke-width="0.9"/>
<text x="256.60" y="225.20" text-anchor="end" font-size="7.9" >1,000</text>
<text transform="translate(234.20,270.90) rotate(-90)" text-anchor="middle" font-size="9.15">Titre (mg l<tspan font-size="5.6" dy="-3.2">−1</tspan><tspan dy="3.2">)</tspan></text>
<line x1="295.40" y1="321.00" x2="295.40" y2="324.80" stroke="#8a8a8a" stroke-width="0.9"/>
<line x1="328.90" y1="321.00" x2="328.90" y2="324.80" stroke="#8a8a8a" stroke-width="0.9"/>
<line x1="362.90" y1="321.00" x2="362.90" y2="324.80" stroke="#8a8a8a" stroke-width="0.9"/>
<line x1="396.60" y1="321.00" x2="396.60" y2="324.80" stroke="#8a8a8a" stroke-width="0.9"/>
<line x1="429.40" y1="321.00" x2="429.40" y2="324.80" stroke="#8a8a8a" stroke-width="0.9"/>
<line x1="264.40" y1="340.80" x2="461.30" y2="340.80" stroke="#808080" stroke-width="0.9"/>
<line x1="264.40" y1="360.10" x2="461.30" y2="360.10" stroke="#808080" stroke-width="0.9"/>
<line x1="264.40" y1="379.50" x2="461.30" y2="379.50" stroke="#808080" stroke-width="0.9"/>
<line x1="264.40" y1="398.40" x2="461.30" y2="398.40" stroke="#808080" stroke-width="0.9"/>
<line x1="362.80" y1="360.10" x2="362.80" y2="379.50" stroke="#808080" stroke-width="0.9"/>
<line x1="295.50" y1="379.50" x2="295.50" y2="398.40" stroke="#808080" stroke-width="0.9"/>
<line x1="329.20" y1="379.50" x2="329.20" y2="398.40" stroke="#808080" stroke-width="0.9"/>
<line x1="362.80" y1="379.50" x2="362.80" y2="398.40" stroke="#808080" stroke-width="0.9"/>
<line x1="396.50" y1="379.50" x2="396.50" y2="398.40" stroke="#808080" stroke-width="0.9"/>
<line x1="429.60" y1="379.50" x2="429.60" y2="398.40" stroke="#808080" stroke-width="0.9"/>
<text x="278.80" y="334.90" text-anchor="middle" font-size="8.75" >QD76</text>
<text x="278.80" y="391.60" text-anchor="middle" font-size="8.75" >1%</text>
<text x="312.30" y="334.90" text-anchor="middle" font-size="8.75" >QD76</text>
<text x="312.30" y="391.60" text-anchor="middle" font-size="8.75" >2%</text>
<text x="345.80" y="334.90" text-anchor="middle" font-size="8.75" >QD76</text>
<text x="345.80" y="391.60" text-anchor="middle" font-size="8.75" >4%</text>
<text x="379.30" y="334.90" text-anchor="middle" font-size="8.75" >QD77</text>
<text x="379.30" y="391.60" text-anchor="middle" font-size="8.75" >1%</text>
<text x="412.80" y="334.90" text-anchor="middle" font-size="8.75" >QD77</text>
<text x="412.80" y="391.60" text-anchor="middle" font-size="8.75" >2%</text>
<text x="446.30" y="334.90" text-anchor="middle" font-size="8.75" >QD77</text>
<text x="446.30" y="391.60" text-anchor="middle" font-size="8.75" >4%</text>
<text x="362.90" y="353.50" text-anchor="middle" font-size="8.75" textLength="57.4" lengthAdjust="spacingAndGlyphs" >RimMOM1-TR2</text>
<text x="313.60" y="372.60" text-anchor="middle" font-size="8.75" >FkbS</text>
<text x="412.00" y="372.60" text-anchor="middle" font-size="8.75" >RimJ</text>
<text x="259.90" y="353.50" text-anchor="end" font-size="8.75" >PKS</text>
<text x="259.90" y="372.60" text-anchor="end" font-size="8.75" >CCR</text>
<text x="259.90" y="391.60" text-anchor="end" font-size="8.75" textLength="32.0" lengthAdjust="spacingAndGlyphs" >Glucose</text>
<rect x="266.50" y="317.50" width="8.40" height="3.50" fill="#a19fb9" stroke="#5a5a5a" stroke-width="0.6"/>
<circle cx="268.10" cy="314.70" r="1.65" fill="#fff" stroke="#3a3a3a" stroke-width="0.6"/>
<circle cx="270.70" cy="316.80" r="1.65" fill="none" stroke="#3a3a3a" stroke-width="0.6"/>
<circle cx="273.10" cy="316.80" r="1.65" fill="none" stroke="#3a3a3a" stroke-width="0.6"/>
<rect x="274.90" y="317.90" width="8.40" height="3.10" fill="#b4c7b9" stroke="#5a5a5a" stroke-width="0.6"/>
<path d="M276.80 314.30L278.53 316.20L276.80 318.10L275.07 316.20Z" fill="#fff" stroke="#3a3a3a" stroke-width="0.6"/>
<path d="M279.10 314.00L280.83 315.90L279.10 317.80L277.37 315.90Z" fill="#fff" stroke="#3a3a3a" stroke-width="0.6"/>
<path d="M281.70 314.90L283.43 316.80L281.70 318.70L279.97 316.80Z" fill="#fff" stroke="#3a3a3a" stroke-width="0.6"/>
<rect x="283.30" y="297.30" width="8.40" height="23.70" fill="#c5a2a5" stroke="#5a5a5a" stroke-width="0.6"/>
<line x1="287.50" y1="297.30" x2="287.50" y2="293.70" stroke="#444" stroke-width="0.65"/>
<line x1="285.10" y1="293.70" x2="289.90" y2="293.70" stroke="#444" stroke-width="0.65"/>
<path d="M287.50 289.70L289.31 293.00L285.69 293.00Z" fill="#fff" stroke="#3a3a3a" stroke-width="0.6"/>
<path d="M284.90 299.10L286.71 302.40L283.08 302.40Z" fill="none" stroke="#3a3a3a" stroke-width="0.6"/>
<path d="M287.50 297.50L289.31 300.80L285.69 300.80Z" fill="none" stroke="#3a3a3a" stroke-width="0.6"/>
<path d="M290.10 296.00L291.92 299.30L288.29 299.30Z" fill="none" stroke="#3a3a3a" stroke-width="0.6"/>
<rect x="299.80" y="311.20" width="8.40" height="9.80" fill="#a19fb9" stroke="#5a5a5a" stroke-width="0.6"/>
<circle cx="301.70" cy="309.90" r="1.65" fill="#fff" stroke="#3a3a3a" stroke-width="0.6"/>
<circle cx="301.70" cy="312.60" r="1.65" fill="none" stroke="#3a3a3a" stroke-width="0.6"/>
<circle cx="304.50" cy="313.70" r="1.65" fill="none" stroke="#3a3a3a" stroke-width="0.6"/>
<circle cx="306.20" cy="311.20" r="1.65" fill="none" stroke="#3a3a3a" stroke-width="0.6"/>
<rect x="308.20" y="315.20" width="8.40" height="5.80" fill="#b4c7b9" stroke="#5a5a5a" stroke-width="0.6"/>
<line x1="312.40" y1="315.20" x2="312.40" y2="312.80" stroke="#444" stroke-width="0.65"/>
<line x1="310.00" y1="312.80" x2="314.80" y2="312.80" stroke="#444" stroke-width="0.65"/>
<path d="M312.40 310.30L314.13 312.20L312.40 314.10L310.67 312.20Z" fill="#fff" stroke="#3a3a3a" stroke-width="0.6"/>
<path d="M309.80 314.30L311.53 316.20L309.80 318.10L308.07 316.20Z" fill="none" stroke="#3a3a3a" stroke-width="0.6"/>
<path d="M314.90 313.90L316.63 315.80L314.90 317.70L313.17 315.80Z" fill="none" stroke="#3a3a3a" stroke-width="0.6"/>
<rect x="316.60" y="288.00" width="8.40" height="33.00" fill="#c5a2a5" stroke="#5a5a5a" stroke-width="0.6"/>
<line x1="320.80" y1="288.00" x2="320.80" y2="279.00" stroke="#444" stroke-width="0.65"/>
<line x1="318.40" y1="279.00" x2="323.20" y2="279.00" stroke="#444" stroke-width="0.65"/>
<path d="M320.80 274.50L322.62 277.80L318.99 277.80Z" fill="#fff" stroke="#3a3a3a" stroke-width="0.6"/>
<path d="M318.20 286.90L320.01 290.20L316.38 290.20Z" fill="none" stroke="#3a3a3a" stroke-width="0.6"/>
<path d="M323.40 289.30L325.22 292.60L321.59 292.60Z" fill="none" stroke="#3a3a3a" stroke-width="0.6"/>
<path d="M320.80 294.50L322.62 297.80L318.99 297.80Z" fill="none" stroke="#3a3a3a" stroke-width="0.6"/>
<rect x="333.50" y="310.50" width="8.40" height="10.50" fill="#a19fb9" stroke="#5a5a5a" stroke-width="0.6"/>
<line x1="337.70" y1="310.50" x2="337.70" y2="307.40" stroke="#444" stroke-width="0.65"/>
<line x1="335.30" y1="307.40" x2="340.10" y2="307.40" stroke="#444" stroke-width="0.65"/>
<circle cx="337.70" cy="304.80" r="1.65" fill="#fff" stroke="#3a3a3a" stroke-width="0.6"/>
<circle cx="337.70" cy="316.20" r="1.65" fill="none" stroke="#3a3a3a" stroke-width="0.6"/>
<rect x="341.90" y="313.30" width="8.40" height="7.70" fill="#b4c7b9" stroke="#5a5a5a" stroke-width="0.6"/>
<path d="M343.80 309.90L345.53 311.80L343.80 313.70L342.07 311.80Z" fill="#fff" stroke="#3a3a3a" stroke-width="0.6"/>
<path d="M346.10 309.00L347.83 310.90L346.10 312.80L344.37 310.90Z" fill="#fff" stroke="#3a3a3a" stroke-width="0.6"/>
<path d="M348.70 309.90L350.43 311.80L348.70 313.70L346.97 311.80Z" fill="#fff" stroke="#3a3a3a" stroke-width="0.6"/>
<rect x="350.30" y="264.20" width="8.40" height="56.80" fill="#c5a2a5" stroke="#5a5a5a" stroke-width="0.6"/>
<line x1="354.50" y1="264.20" x2="354.50" y2="251.60" stroke="#444" stroke-width="0.65"/>
<line x1="352.10" y1="251.60" x2="356.90" y2="251.60" stroke="#444" stroke-width="0.65"/>
<path d="M354.50 247.60L356.31 250.90L352.69 250.90Z" fill="#fff" stroke="#3a3a3a" stroke-width="0.6"/>
<path d="M351.90 269.70L353.71 273.00L350.08 273.00Z" fill="none" stroke="#3a3a3a" stroke-width="0.6"/>
<path d="M357.10 268.60L358.92 271.90L355.29 271.90Z" fill="none" stroke="#3a3a3a" stroke-width="0.6"/>
<rect x="367.10" y="316.20" width="8.40" height="4.80" fill="#a19fb9" stroke="#5a5a5a" stroke-width="0.6"/>
<circle cx="368.70" cy="313.80" r="1.65" fill="#fff" stroke="#3a3a3a" stroke-width="0.6"/>
<circle cx="371.30" cy="314.60" r="1.65" fill="#fff" stroke="#3a3a3a" stroke-width="0.6"/>
<circle cx="373.60" cy="315.40" r="1.65" fill="none" stroke="#3a3a3a" stroke-width="0.6"/>
<rect x="375.50" y="316.50" width="8.40" height="4.50" fill="#b4c7b9" stroke="#5a5a5a" stroke-width="0.6"/>
<path d="M377.10 314.10L378.83 316.00L377.10 317.90L375.37 316.00Z" fill="none" stroke="#3a3a3a" stroke-width="0.6"/>
<path d="M379.70 313.60L381.43 315.50L379.70 317.40L377.97 315.50Z" fill="#fff" stroke="#3a3a3a" stroke-width="0.6"/>
<path d="M382.30 314.10L384.03 316.00L382.30 317.90L380.57 316.00Z" fill="none" stroke="#3a3a3a" stroke-width="0.6"/>
<rect x="383.90" y="300.40" width="8.40" height="20.60" fill="#c5a2a5" stroke="#5a5a5a" stroke-width="0.6"/>
<line x1="388.10" y1="300.40" x2="388.10" y2="298.80" stroke="#444" stroke-width="0.65"/>
<line x1="385.70" y1="298.80" x2="390.50" y2="298.80" stroke="#444" stroke-width="0.65"/>
<path d="M388.10 296.30L389.92 299.60L386.29 299.60Z" fill="#fff" stroke="#3a3a3a" stroke-width="0.6"/>
<path d="M385.50 299.00L387.31 302.30L383.69 302.30Z" fill="none" stroke="#3a3a3a" stroke-width="0.6"/>
<path d="M390.50 298.60L392.31 301.90L388.69 301.90Z" fill="none" stroke="#3a3a3a" stroke-width="0.6"/>
<rect x="400.20" y="309.00" width="8.40" height="12.00" fill="#a19fb9" stroke="#5a5a5a" stroke-width="0.6"/>
<line x1="404.40" y1="309.00" x2="404.40" y2="306.50" stroke="#444" stroke-width="0.65"/>
<line x1="402.00" y1="306.50" x2="406.80" y2="306.50" stroke="#444" stroke-width="0.65"/>
<circle cx="401.60" cy="306.00" r="1.65" fill="#fff" stroke="#3a3a3a" stroke-width="0.6"/>
<circle cx="407.00" cy="306.00" r="1.65" fill="#fff" stroke="#3a3a3a" stroke-width="0.6"/>
<circle cx="401.60" cy="312.20" r="1.65" fill="none" stroke="#3a3a3a" stroke-width="0.6"/>
<circle cx="407.00" cy="309.80" r="1.65" fill="none" stroke="#3a3a3a" stroke-width="0.6"/>
<rect x="408.60" y="315.40" width="8.40" height="5.60" fill="#b4c7b9" stroke="#5a5a5a" stroke-width="0.6"/>
<line x1="412.80" y1="315.40" x2="412.80" y2="311.70" stroke="#444" stroke-width="0.65"/>
<line x1="410.40" y1="311.70" x2="415.20" y2="311.70" stroke="#444" stroke-width="0.65"/>
<path d="M412.80 307.50L414.53 309.40L412.80 311.30L411.07 309.40Z" fill="#fff" stroke="#3a3a3a" stroke-width="0.6"/>
<path d="M410.20 313.60L411.93 315.50L410.20 317.40L408.47 315.50Z" fill="none" stroke="#3a3a3a" stroke-width="0.6"/>
<path d="M412.80 313.10L414.53 315.00L412.80 316.90L411.07 315.00Z" fill="none" stroke="#3a3a3a" stroke-width="0.6"/>
<path d="M415.40 313.60L417.13 315.50L415.40 317.40L413.67 315.50Z" fill="none" stroke="#3a3a3a" stroke-width="0.6"/>
<rect x="417.00" y="293.70" width="8.40" height="27.30" fill="#c5a2a5" stroke="#5a5a5a" stroke-width="0.6"/>
<line x1="421.20" y1="293.70" x2="421.20" y2="279.30" stroke="#444" stroke-width="0.65"/>
<line x1="418.80" y1="279.30" x2="423.60" y2="279.30" stroke="#444" stroke-width="0.65"/>
<path d="M421.20 271.70L423.01 275.00L419.38 275.00Z" fill="#fff" stroke="#3a3a3a" stroke-width="0.6"/>
<path d="M421.20 291.50L423.01 294.80L419.38 294.80Z" fill="none" stroke="#3a3a3a" stroke-width="0.6"/>
<path d="M418.80 303.00L420.62 306.30L416.99 306.30Z" fill="none" stroke="#3a3a3a" stroke-width="0.6"/>
<path d="M423.60 301.10L425.41 304.40L421.78 304.40Z" fill="none" stroke="#3a3a3a" stroke-width="0.6"/>
<rect x="433.90" y="306.50" width="8.40" height="14.50" fill="#a19fb9" stroke="#5a5a5a" stroke-width="0.6"/>
<line x1="438.10" y1="306.50" x2="438.10" y2="305.00" stroke="#444" stroke-width="0.65"/>
<line x1="435.70" y1="305.00" x2="440.50" y2="305.00" stroke="#444" stroke-width="0.65"/>
<circle cx="438.10" cy="303.70" r="1.65" fill="#fff" stroke="#3a3a3a" stroke-width="0.6"/>
<circle cx="435.50" cy="306.90" r="1.65" fill="none" stroke="#3a3a3a" stroke-width="0.6"/>
<circle cx="440.70" cy="307.40" r="1.65" fill="none" stroke="#3a3a3a" stroke-width="0.6"/>
<rect x="442.30" y="313.50" width="8.40" height="7.50" fill="#b4c7b9" stroke="#5a5a5a" stroke-width="0.6"/>
<line x1="446.50" y1="313.50" x2="446.50" y2="311.00" stroke="#444" stroke-width="0.65"/>
<line x1="444.10" y1="311.00" x2="448.90" y2="311.00" stroke="#444" stroke-width="0.65"/>
<path d="M446.50 307.10L448.23 309.00L446.50 310.90L444.77 309.00Z" fill="#fff" stroke="#3a3a3a" stroke-width="0.6"/>
<path d="M443.90 312.70L445.63 314.60L443.90 316.50L442.17 314.60Z" fill="none" stroke="#3a3a3a" stroke-width="0.6"/>
<path d="M449.10 312.20L450.83 314.10L449.10 316.00L447.37 314.10Z" fill="none" stroke="#3a3a3a" stroke-width="0.6"/>
<rect x="450.70" y="280.10" width="8.40" height="40.90" fill="#c5a2a5" stroke="#5a5a5a" stroke-width="0.6"/>
<line x1="454.90" y1="280.10" x2="454.90" y2="277.30" stroke="#444" stroke-width="0.65"/>
<line x1="452.50" y1="277.30" x2="457.30" y2="277.30" stroke="#444" stroke-width="0.65"/>
<path d="M454.90 273.30L456.71 276.60L453.08 276.60Z" fill="#fff" stroke="#3a3a3a" stroke-width="0.6"/>
<path d="M452.30 280.90L454.11 284.20L450.48 284.20Z" fill="none" stroke="#3a3a3a" stroke-width="0.6"/>
<path d="M457.50 280.30L459.31 283.60L455.69 283.60Z" fill="none" stroke="#3a3a3a" stroke-width="0.6"/>
<text x="478.60" y="220.40" text-anchor="start" font-size="12.9" font-weight="bold" fill="#000" stroke="#000" stroke-width="0.45">e</text>
<line x1="519.50" y1="222.50" x2="519.50" y2="398.40" stroke="#939393" stroke-width="0.9"/>
<line x1="684.10" y1="222.50" x2="684.10" y2="398.40" stroke="#808080" stroke-width="0.9"/>
<line x1="515.50" y1="222.50" x2="684.10" y2="222.50" stroke="#939393" stroke-width="0.9"/>
<line x1="519.50" y1="321.00" x2="684.10" y2="321.00" stroke="#b5b5b5" stroke-width="0.9"/>
<line x1="515.50" y1="321.00" x2="519.50" y2="321.00" stroke="#8a8a8a" stroke-width="0.9"/>
<text x="512.60" y="323.70" text-anchor="end" font-size="7.9" >0</text>
<line x1="515.50" y1="301.30" x2="519.50" y2="301.30" stroke="#8a8a8a" stroke-width="0.9"/>
<text x="512.60" y="304.00" text-anchor="end" font-size="7.9" >200</text>
<line x1="515.50" y1="281.60" x2="519.50" y2="281.60" stroke="#8a8a8a" stroke-width="0.9"/>
<text x="512.60" y="284.30" text-anchor="end" font-size="7.9" >400</text>
<line x1="515.50" y1="261.90" x2="519.50" y2="261.90" stroke="#8a8a8a" stroke-width="0.9"/>
<text x="512.60" y="264.60" text-anchor="end" font-size="7.9" >600</text>
<line x1="515.50" y1="242.20" x2="519.50" y2="242.20" stroke="#8a8a8a" stroke-width="0.9"/>
<text x="512.60" y="244.90" text-anchor="end" font-size="7.9" >800</text>
<line x1="515.50" y1="222.50" x2="519.50" y2="222.50" stroke="#8a8a8a" stroke-width="0.9"/>
<text x="512.60" y="225.20" text-anchor="end" font-size="7.9" >1,000</text>
<text transform="translate(487.60,273.30) rotate(-90)" text-anchor="middle" font-size="9.15">Titre (mg l<tspan font-size="5.6" dy="-3.2">−1</tspan><tspan dy="3.2">)</tspan></text>
<line x1="551.30" y1="321.00" x2="551.30" y2="324.80" stroke="#8a8a8a" stroke-width="0.9"/>
<line x1="585.50" y1="321.00" x2="585.50" y2="324.80" stroke="#8a8a8a" stroke-width="0.9"/>
<line x1="619.50" y1="321.00" x2="619.50" y2="324.80" stroke="#8a8a8a" stroke-width="0.9"/>
<line x1="652.70" y1="321.00" x2="652.70" y2="324.80" stroke="#8a8a8a" stroke-width="0.9"/>
<line x1="519.50" y1="340.70" x2="684.10" y2="340.70" stroke="#808080" stroke-width="0.9"/>
<line x1="519.50" y1="359.50" x2="684.10" y2="359.50" stroke="#808080" stroke-width="0.9"/>
<line x1="519.50" y1="379.10" x2="684.10" y2="379.10" stroke="#808080" stroke-width="0.9"/>
<line x1="519.50" y1="398.40" x2="684.10" y2="398.40" stroke="#808080" stroke-width="0.9"/>
<line x1="551.00" y1="379.10" x2="551.00" y2="398.40" stroke="#808080" stroke-width="0.9"/>
<line x1="585.50" y1="379.10" x2="585.50" y2="398.40" stroke="#808080" stroke-width="0.9"/>
<line x1="619.20" y1="379.10" x2="619.20" y2="398.40" stroke="#808080" stroke-width="0.9"/>
<line x1="650.50" y1="379.10" x2="650.50" y2="398.40" stroke="#808080" stroke-width="0.9"/>
<text x="534.00" y="334.90" text-anchor="middle" font-size="8.75" >QD78</text>
<text x="535.60" y="391.40" text-anchor="middle" font-size="8.75" >YqhD</text>
<text x="568.10" y="334.90" text-anchor="middle" font-size="8.75" >QD79</text>
<text x="568.20" y="391.40" text-anchor="middle" font-size="8.75" >ChnD</text>
<text x="602.20" y="334.90" text-anchor="middle" font-size="8.75" >QD80</text>
<text x="602.60" y="391.40" text-anchor="middle" font-size="8.75" >YahK</text>
<text x="636.30" y="334.90" text-anchor="middle" font-size="8.75" >QD81</text>
<text x="635.40" y="391.40" text-anchor="middle" font-size="8.75" >YjgB</text>
<text x="670.40" y="334.90" text-anchor="middle" font-size="8.75" >QD82</text>
<text x="667.30" y="391.40" text-anchor="middle" font-size="8.75" >ScADH2</text>
<text x="601.90" y="353.40" text-anchor="middle" font-size="8.75" textLength="57.4" lengthAdjust="spacingAndGlyphs" >RimMOM1-TR2</text>
<text x="601.90" y="372.40" text-anchor="middle" font-size="8.75" >FkbS</text>
<text x="516.00" y="353.40" text-anchor="end" font-size="8.75" >PKS</text>
<text x="516.00" y="372.40" text-anchor="end" font-size="8.75" >CCR</text>
<text x="516.00" y="391.40" text-anchor="end" font-size="8.75" >ADH</text>
<rect x="521.00" y="315.30" width="8.55" height="5.70" fill="#a19fb9" stroke="#5a5a5a" stroke-width="0.6"/>
<circle cx="525.27" cy="313.30" r="1.65" fill="#fff" stroke="#3a3a3a" stroke-width="0.6"/>
<circle cx="522.67" cy="316.70" r="1.65" fill="none" stroke="#3a3a3a" stroke-width="0.6"/>
<circle cx="527.88" cy="316.70" r="1.65" fill="none" stroke="#3a3a3a" stroke-width="0.6"/>
<rect x="529.55" y="313.60" width="8.55" height="7.40" fill="#b4c7b9" stroke="#5a5a5a" stroke-width="0.6"/>
<path d="M533.82 309.80L535.56 311.70L533.82 313.60L532.09 311.70Z" fill="#fff" stroke="#3a3a3a" stroke-width="0.6"/>
<path d="M531.22 312.10L532.96 314.00L531.22 315.90L529.49 314.00Z" fill="none" stroke="#3a3a3a" stroke-width="0.6"/>
<path d="M536.42 312.10L538.16 314.00L536.42 315.90L534.69 314.00Z" fill="none" stroke="#3a3a3a" stroke-width="0.6"/>
<rect x="538.10" y="283.90" width="8.55" height="37.10" fill="#c5a2a5" stroke="#5a5a5a" stroke-width="0.6"/>
<line x1="542.38" y1="283.90" x2="542.38" y2="279.50" stroke="#444" stroke-width="0.65"/>
<line x1="539.98" y1="279.50" x2="544.77" y2="279.50" stroke="#444" stroke-width="0.65"/>
<path d="M542.38 276.20L544.19 279.50L540.56 279.50Z" fill="#fff" stroke="#3a3a3a" stroke-width="0.6"/>
<path d="M539.98 285.00L541.79 288.30L538.16 288.30Z" fill="none" stroke="#3a3a3a" stroke-width="0.6"/>
<path d="M544.77 285.00L546.59 288.30L542.96 288.30Z" fill="none" stroke="#3a3a3a" stroke-width="0.6"/>
<rect x="555.30" y="317.40" width="8.55" height="3.60" fill="#a19fb9" stroke="#5a5a5a" stroke-width="0.6"/>
<circle cx="559.57" cy="315.10" r="1.65" fill="#fff" stroke="#3a3a3a" stroke-width="0.6"/>
<circle cx="556.97" cy="318.00" r="1.65" fill="none" stroke="#3a3a3a" stroke-width="0.6"/>
<circle cx="562.17" cy="318.00" r="1.65" fill="none" stroke="#3a3a3a" stroke-width="0.6"/>
<rect x="563.85" y="315.30" width="8.55" height="5.70" fill="#b4c7b9" stroke="#5a5a5a" stroke-width="0.6"/>
<path d="M565.52 313.10L567.26 315.00L565.52 316.90L563.79 315.00Z" fill="none" stroke="#3a3a3a" stroke-width="0.6"/>
<path d="M568.12 312.70L569.86 314.60L568.12 316.50L566.39 314.60Z" fill="none" stroke="#3a3a3a" stroke-width="0.6"/>
<path d="M570.72 313.10L572.46 315.00L570.72 316.90L568.99 315.00Z" fill="none" stroke="#3a3a3a" stroke-width="0.6"/>
<rect x="572.40" y="290.00" width="8.55" height="31.00" fill="#c5a2a5" stroke="#5a5a5a" stroke-width="0.6"/>
<path d="M574.07 287.70L575.89 291.00L572.26 291.00Z" fill="none" stroke="#3a3a3a" stroke-width="0.6"/>
<path d="M576.67 287.40L578.49 290.70L574.86 290.70Z" fill="none" stroke="#3a3a3a" stroke-width="0.6"/>
<path d="M579.27 287.70L581.09 291.00L577.46 291.00Z" fill="none" stroke="#3a3a3a" stroke-width="0.6"/>
<rect x="589.20" y="308.10" width="8.55" height="12.90" fill="#a19fb9" stroke="#5a5a5a" stroke-width="0.6"/>
<circle cx="590.88" cy="308.00" r="1.65" fill="none" stroke="#3a3a3a" stroke-width="0.6"/>
<circle cx="593.48" cy="307.60" r="1.65" fill="none" stroke="#3a3a3a" stroke-width="0.6"/>
<circle cx="596.08" cy="308.00" r="1.65" fill="none" stroke="#3a3a3a" stroke-width="0.6"/>
<rect x="597.75" y="311.40" width="8.55" height="9.60" fill="#b4c7b9" stroke="#5a5a5a" stroke-width="0.6"/>
<path d="M599.42 309.30L601.16 311.20L599.42 313.10L597.69 311.20Z" fill="none" stroke="#3a3a3a" stroke-width="0.6"/>
<path d="M602.02 308.90L603.76 310.80L602.02 312.70L600.29 310.80Z" fill="none" stroke="#3a3a3a" stroke-width="0.6"/>
<path d="M604.62 309.30L606.36 311.20L604.62 313.10L602.89 311.20Z" fill="none" stroke="#3a3a3a" stroke-width="0.6"/>
<rect x="606.30" y="243.60" width="8.55" height="77.40" fill="#c5a2a5" stroke="#5a5a5a" stroke-width="0.6"/>
<line x1="610.58" y1="243.60" x2="610.58" y2="240.50" stroke="#444" stroke-width="0.65"/>
<line x1="608.18" y1="240.50" x2="612.98" y2="240.50" stroke="#444" stroke-width="0.65"/>
<path d="M607.98 239.20L609.79 242.50L606.16 242.50Z" fill="#fff" stroke="#3a3a3a" stroke-width="0.6"/>
<path d="M613.18 239.20L614.99 242.50L611.36 242.50Z" fill="#fff" stroke="#3a3a3a" stroke-width="0.6"/>
<path d="M610.58 247.20L612.39 250.50L608.76 250.50Z" fill="none" stroke="#3a3a3a" stroke-width="0.6"/>
<rect x="623.50" y="310.60" width="8.55" height="10.40" fill="#a19fb9" stroke="#5a5a5a" stroke-width="0.6"/>
<circle cx="625.17" cy="310.40" r="1.65" fill="none" stroke="#3a3a3a" stroke-width="0.6"/>
<circle cx="627.77" cy="310.00" r="1.65" fill="none" stroke="#3a3a3a" stroke-width="0.6"/>
<circle cx="630.38" cy="310.40" r="1.65" fill="none" stroke="#3a3a3a" stroke-width="0.6"/>
<rect x="632.05" y="308.10" width="8.55" height="12.90" fill="#b4c7b9" stroke="#5a5a5a" stroke-width="0.6"/>
<path d="M633.72 306.00L635.46 307.90L633.72 309.80L631.99 307.90Z" fill="none" stroke="#3a3a3a" stroke-width="0.6"/>
<path d="M636.32 305.60L638.06 307.50L636.32 309.40L634.59 307.50Z" fill="none" stroke="#3a3a3a" stroke-width="0.6"/>
<path d="M638.92 306.00L640.66 307.90L638.92 309.80L637.19 307.90Z" fill="none" stroke="#3a3a3a" stroke-width="0.6"/>
<rect x="640.60" y="246.10" width="8.55" height="74.90" fill="#c5a2a5" stroke="#5a5a5a" stroke-width="0.6"/>
<path d="M642.27 243.90L644.09 247.20L640.46 247.20Z" fill="none" stroke="#3a3a3a" stroke-width="0.6"/>
<path d="M644.88 243.50L646.69 246.80L643.06 246.80Z" fill="none" stroke="#3a3a3a" stroke-width="0.6"/>
<path d="M647.48 243.90L649.29 247.20L645.66 247.20Z" fill="none" stroke="#3a3a3a" stroke-width="0.6"/>
<rect x="657.50" y="317.60" width="8.55" height="3.40" fill="#a19fb9" stroke="#5a5a5a" stroke-width="0.6"/>
<circle cx="659.17" cy="317.40" r="1.65" fill="none" stroke="#3a3a3a" stroke-width="0.6"/>
<circle cx="661.77" cy="316.90" r="1.65" fill="none" stroke="#3a3a3a" stroke-width="0.6"/>
<circle cx="664.38" cy="317.40" r="1.65" fill="none" stroke="#3a3a3a" stroke-width="0.6"/>
<rect x="666.05" y="314.30" width="8.55" height="6.70" fill="#b4c7b9" stroke="#5a5a5a" stroke-width="0.6"/>
<path d="M667.72 312.20L669.46 314.10L667.72 316.00L665.99 314.10Z" fill="none" stroke="#3a3a3a" stroke-width="0.6"/>
<path d="M670.32 311.70L672.06 313.60L670.32 315.50L668.59 313.60Z" fill="none" stroke="#3a3a3a" stroke-width="0.6"/>
<path d="M672.92 312.20L674.66 314.10L672.92 316.00L671.19 314.10Z" fill="none" stroke="#3a3a3a" stroke-width="0.6"/>
<rect x="674.60" y="287.80" width="8.55" height="33.20" fill="#c5a2a5" stroke="#5a5a5a" stroke-width="0.6"/>
<path d="M676.27 285.60L678.09 288.90L674.46 288.90Z" fill="none" stroke="#3a3a3a" stroke-width="0.6"/>
<path d="M678.88 285.20L680.69 288.50L677.06 288.50Z" fill="none" stroke="#3a3a3a" stroke-width="0.6"/>
<path d="M681.48 285.60L683.29 288.90L679.66 288.90Z" fill="none" stroke="#3a3a3a" stroke-width="0.6"/>
</svg></body></html>
